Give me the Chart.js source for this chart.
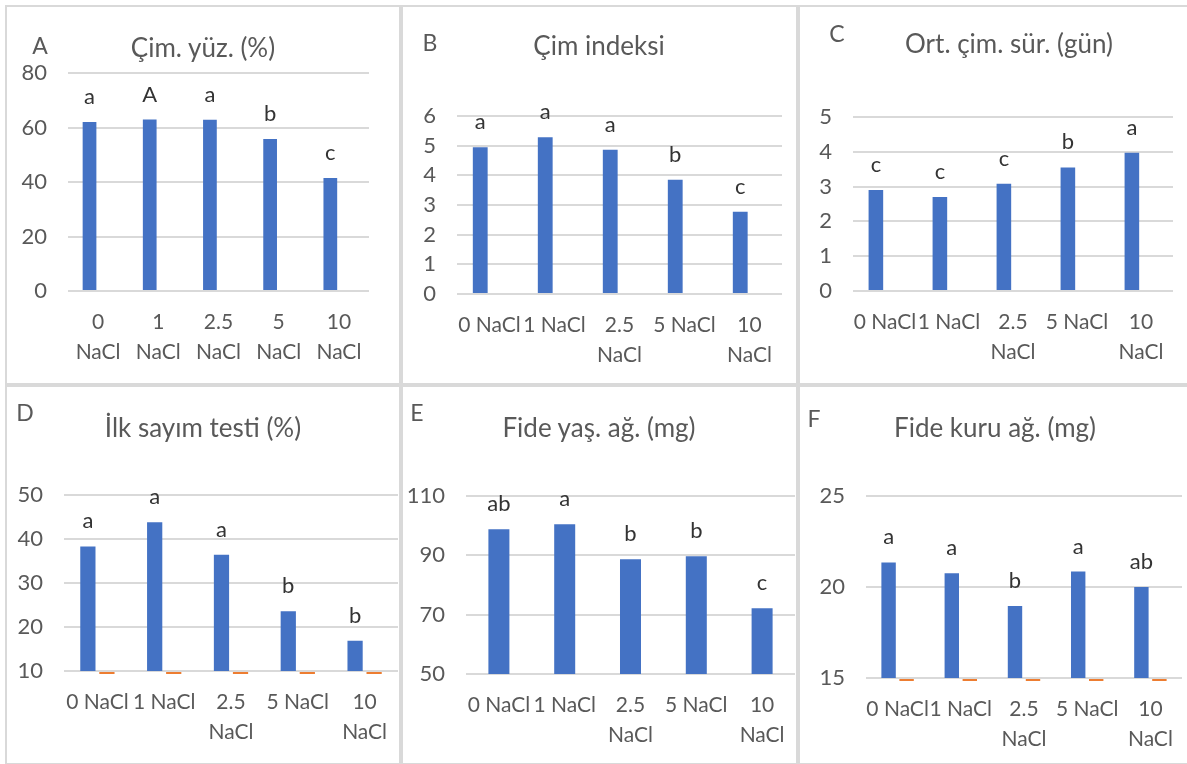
<!DOCTYPE html>
<html lang="tr">
  <head>
    <meta charset="UTF-8" />
    <title>NaCl</title>
    <script src="https://cdn.jsdelivr.net/npm/chart.js"></script>
    <style>
      * {
        box-sizing: border-box;
      }

      body {
        margin: 0;
        background: #ffffff;
        font-family: "Lato", sans-serif;
        color: #595959;
      }

      .page {
        position: relative;
        width: 1187px;
        height: 764px;
        overflow: hidden;
      }

      .panel {
        position: absolute;
        border: 2px solid #d9d9d9;
      }

      .panel canvas {
        position: absolute;
        left: -2px;
        top: -2px;
      }

      .title,
      .tag {
        position: absolute;
        transform: translate(-50%, -50%);
        white-space: nowrap;
        line-height: 1;
      }

      .title {
        font-size: 26px;
      }

      .tag {
        font-size: 23px;
      }
    </style>
  </head>

  <body>
    <div class="page" id="page"></div>

    <script>
      // categories
      const labelsA = [["0", "NaCl"], ["1", "NaCl"], ["2.5", "NaCl"], ["5", "NaCl"], ["10", "NaCl"]];
      const labelsNaCl = ["0 NaCl", "1 NaCl", ["2.5", "NaCl"], "5 NaCl", ["10", "NaCl"]];

      // series values
      const germPercent = [62.0, 62.9, 62.8, 55.8, 41.5];
      const germIndex = [4.95, 5.28, 4.86, 3.85, 2.77];
      const meanGermTime = [2.9, 2.7, 3.08, 3.55, 3.97];
      const firstCount = [38.3, 43.8, 36.4, 23.6, 16.9];
      const freshWeight = [98.8, 100.5, 88.7, 89.7, 72.2];
      const dryWeight = [21.35, 20.75, 18.95, 20.85, 20.0];
      const secondSeries = [0, 0, 0, 0, 0];

      // significance letters
      const lettersA = ["a", "A", "a", "b", "c"];
      const lettersB = ["a", "a", "a", "b", "c"];
      const lettersC = ["c", "c", "c", "b", "a"];
      const lettersD = ["a", "a", "a", "b", "b"];
      const lettersE = ["ab", "a", "b", "b", "c"];
      const lettersF = ["a", "a", "b", "a", "ab"];

      // y axis ticks: min, max, step
      const ticksA = [0, 80, 20];
      const ticksB = [0, 6, 1];
      const ticksC = [0, 5, 1];
      const ticksD = [10, 50, 10];
      const ticksE = [50, 110, 20];
      const ticksF = [15, 25, 5];

      const blue = "#4472C4";
      const orange = "#ED7D31";

      Chart.defaults.font.family = "Lato";
      Chart.defaults.color = "#595959";

      const letterPlugin = {
        id: "letters",
        afterDatasetsDraw(chart, args, opts) {
          const ctx = chart.ctx;
          const meta = chart.getDatasetMeta(0);
          ctx.save();
          ctx.font = "22px Lato";
          ctx.fillStyle = "#333333";
          ctx.textAlign = "center";
          ctx.textBaseline = "alphabetic";
          meta.data.forEach((bar, i) => {
            ctx.fillText(opts.labels[i], bar.x, bar.y - 18);
          });
          ctx.restore();
        },
      };

      // box = panel outer box, area = offsets of plot area inside the box
      const panels = [
        {
          tag: "A", title: "Çim. yüz. (%)", labels: labelsA, values: germPercent, extra: secondSeries,
          letters: lettersA, ticks: ticksA,
          box: [5, 5, 396, 380], area: { left: 63, top: 68, right: 32, bottom: 94 },
          titlePos: [203, 47], tagPos: [40, 45],
        },
        {
          tag: "B", title: "Çim indeksi", labels: labelsNaCl, values: germIndex, extra: secondSeries,
          letters: lettersB, ticks: ticksB,
          box: [401, 5, 397, 380], area: { left: 56, top: 111, right: 16, bottom: 91 },
          titlePos: [599, 45], tagPos: [430, 42],
        },
        {
          tag: "C", title: "Ort. çim. sür. (gün)", labels: labelsNaCl, values: meanGermTime, extra: secondSeries,
          letters: lettersC, ticks: ticksC,
          box: [798, 5, 391, 380], area: { left: 55, top: 112, right: 16, bottom: 94 },
          titlePos: [1009, 43], tagPos: [837, 33],
        },
        {
          tag: "D", title: "İlk sayım testi (%)", labels: labelsNaCl, values: firstCount, extra: secondSeries,
          letters: lettersD, ticks: ticksD,
          box: [5, 385, 396, 380], area: { left: 59, top: 110, right: 3, bottom: 94 },
          titlePos: [203, 427], tagPos: [25, 412],
        },
        {
          tag: "E", title: "Fide yaş. ağ. (mg)", labels: labelsNaCl, values: freshWeight, extra: null,
          letters: lettersE, ticks: ticksE,
          box: [401, 385, 397, 380], area: { left: 65, top: 111, right: 3, bottom: 91 },
          titlePos: [599, 427], tagPos: [417, 412],
        },
        {
          tag: "F", title: "Fide kuru ağ. (mg)", labels: labelsNaCl, values: dryWeight, extra: secondSeries,
          letters: lettersF, ticks: ticksF,
          box: [798, 385, 391, 380], area: { left: 68, top: 111, right: 7, bottom: 87 },
          titlePos: [995, 427], tagPos: [814, 418],
        },
      ];

      const page = document.getElementById("page");

      panels.forEach((p) => {
        const [bx, by, bw, bh] = p.box;
        const panel = document.createElement("div");
        panel.className = "panel";
        panel.style.left = bx + "px";
        panel.style.top = by + "px";
        panel.style.width = bw + "px";
        panel.style.height = bh + "px";
        const canvas = document.createElement("canvas");
        canvas.width = bw;
        canvas.height = bh;
        panel.appendChild(canvas);
        page.appendChild(panel);

        const title = document.createElement("div");
        title.className = "title";
        title.textContent = p.title;
        title.style.left = p.titlePos[0] + "px";
        title.style.top = p.titlePos[1] + "px";
        page.appendChild(title);

        const tag = document.createElement("div");
        tag.className = "tag";
        tag.textContent = p.tag;
        tag.style.left = p.tagPos[0] + "px";
        tag.style.top = p.tagPos[1] + "px";
        page.appendChild(tag);

        const datasets = [
          {
            data: p.values,
            backgroundColor: blue,
            categoryPercentage: 0.57,
            barPercentage: p.extra ? 0.8 : 0.56,
          },
        ];
        if (p.extra) {
          // zero-valued second series: Excel shows it as a thin stub under the axis
          datasets.push({
            data: p.extra,
            backgroundColor: orange,
            categoryPercentage: 0.57,
            barPercentage: 0.8,
            base: p.ticks[0],
            clip: { left: 0, top: 0, right: 0, bottom: 3 },
          });
        }

        new Chart(canvas.getContext("2d"), {
          type: "bar",
          data: { labels: p.labels, datasets: datasets },
          plugins: [letterPlugin],
          options: {
            responsive: false,
            animation: false,
            layout: {
              padding: { left: 0, top: p.area.top, right: p.area.right, bottom: 0 },
            },
            plugins: {
              legend: { display: false },
              tooltip: { enabled: false },
              letters: { labels: p.letters },
            },
            scales: {
              x: {
                grid: { display: false },
                border: { display: false },
                ticks: {
                  font: { size: 21, lineHeight: 1.4 },
                  padding: 9,
                  maxRotation: 0,
                  autoSkip: false,
                },
                afterFit: (scale) => {
                  scale.height = p.area.bottom;
                },
              },
              y: {
                min: p.ticks[0],
                max: p.ticks[1],
                grid: { color: "#d9d9d9", lineWidth: 2, drawTicks: false },
                border: { display: false },
                ticks: {
                  stepSize: p.ticks[2],
                  font: { size: 22 },
                  padding: 21,
                },
                afterFit: (scale) => {
                  scale.width = p.area.left;
                },
              },
            },
          },
        });
      });
    </script>
  </body>
</html>
